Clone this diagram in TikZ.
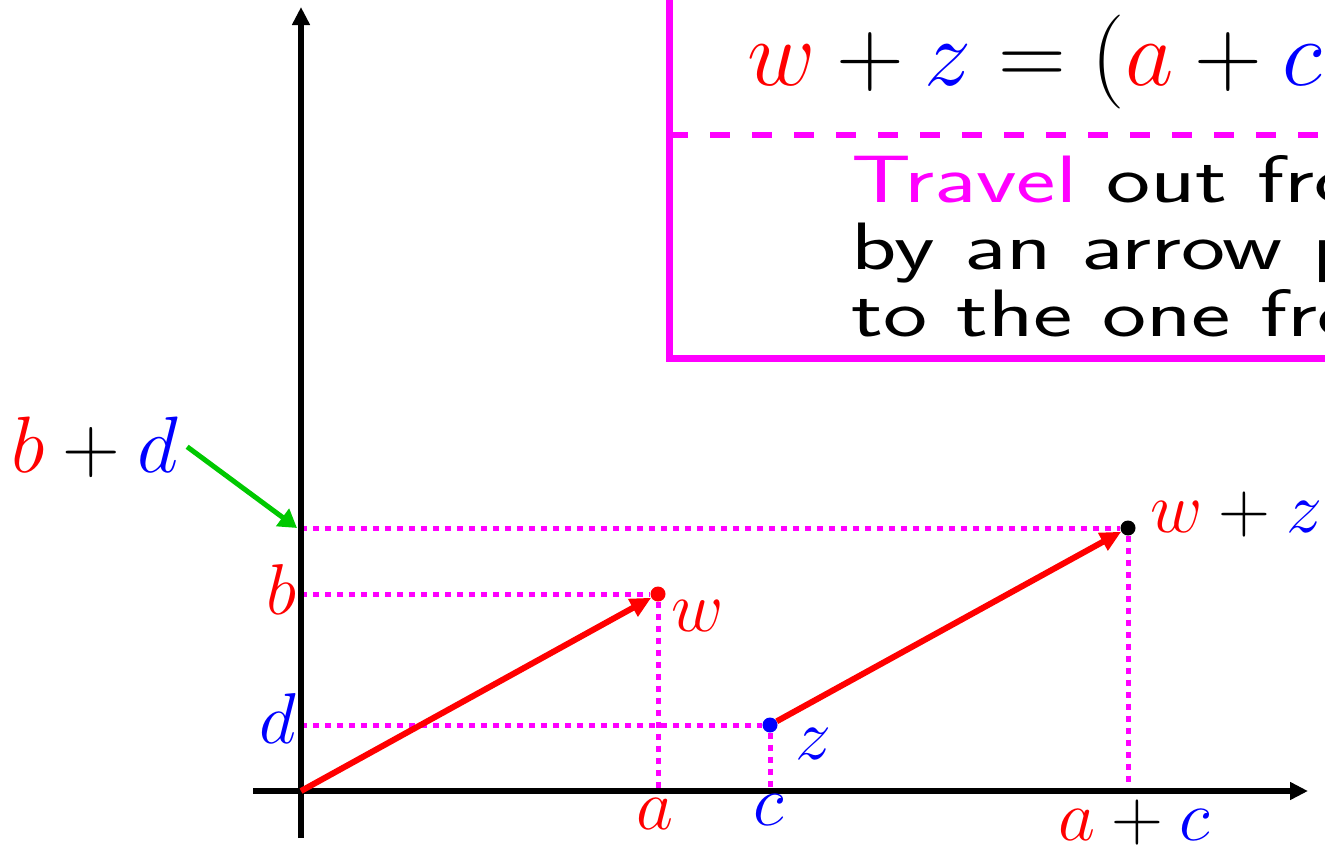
\RequirePackage{fix-cm}
\documentclass[tikz,border=0pt]{standalone}
\usetikzlibrary{arrows.meta}
\definecolor{arrowgreen}{RGB}{0,200,0}
\definecolor{hotmagenta}{RGB}{255,0,255}

\begin{document}
\begin{tikzpicture}[
    x=1pt, y=-1pt,
    axis/.style={line width=5.5pt, -{Triangle[length=18pt,width=17pt]}},
    vec/.style={line width=6pt, red, -{Triangle[length=21pt,width=19pt]}},
    guide/.style={line width=5pt, hotmagenta, dash pattern=on 6pt off 6pt},
    pointer/.style={line width=5pt, arrowgreen, -{Triangle[length=18pt,width=21pt]}},
    dot/.style={circle, fill, inner sep=0pt, minimum size=15pt},
    lbl/.style={inner sep=0pt, font=\fontsize{72}{72}\selectfont},
    frame/.style={line width=7pt, hotmagenta}
]
\useasboundingbox (0,0) rectangle (1325,846);
\clip (0,0) rectangle (1325,846);

% 1. Points
\coordinate (O) at (301,791);
\node[dot, red] (w) at (658,594) {};
\node[dot, blue] (z) at (770,725) {};
\node[dot, black] (wz) at (1128,528) {};

% 2. Dotted guides
\draw[guide] (O |- wz) -- (wz);
\draw[guide] (O |- w) -- (w);
\draw[guide] (O |- z) -- (z);
\draw[guide] (w) -- (w |- O);
\draw[guide] (z) -- (z |- O);
\draw[guide] (wz) -- (wz |- O);

% 3. Axes
\coordinate (xstart) at (253,791);
\coordinate (xend) at (1308,791);
\coordinate (ystart) at (301,838);
\coordinate (yend) at (301,7);
\draw[axis] (xstart) -- (xend);
\draw[axis] (ystart) -- (yend);

% 4. Vectors
\draw[vec] (O) -- (w);
\draw[vec] (z) -- (wz);

% 5. Labels
\node[lbl, red, anchor=base east] (lb) at (297,614) {$b$};
\node[lbl, blue, anchor=base east] (ld) at (296,743) {$d$};
\node[lbl, red, anchor=base] (la) at (655,829) {$a$};
\node[lbl, blue, anchor=base] (lc) at (769,825) {$c$};
\node[lbl, red, anchor=base west] (lw) at (671,631) {$w$};
\node[lbl, blue, anchor=base west] (lz) at (795,759) {$z$};
\node[lbl, anchor=base west] (lwz) at (1150,532) {$\textcolor{red}{w}+\textcolor{blue}{z}$};
\node[lbl, anchor=base] (lac) at (1134,840) {$\textcolor{red}{a}+\textcolor{blue}{c}$};
\node[lbl, anchor=base west, outer sep=9pt, font=\fontsize{80}{80}\selectfont] (lbd) at (2,472) {$\textcolor{red}{b}+\textcolor{blue}{d}$};

\coordinate (bdmark) at (297,528);
\draw[pointer] (lbd.east) -- (bdmark);

% 6. Rule box
\draw[frame] (669,-20) rectangle (1345,358);
\draw[hotmagenta, line width=6.5pt, dash pattern=on 20pt off 22pt] (668,135) -- (1345,135);
\node[anchor=base west, inner sep=0pt, font=\fontsize{94}{94}\selectfont] (sumeq) at (747,85)
    {$\textcolor{red}{w}+\textcolor{blue}{z}=(\textcolor{red}{a}+\textcolor{blue}{c})$};
\node[anchor=base west, inner sep=0pt, font=\sffamily\fontsize{67}{67}\selectfont] (rule) at (851,202)
    {\scalebox{1.4}[1]{\begin{tabular}[t]{@{}l@{}}
     \textcolor{hotmagenta}{Travel} out from\\by an arrow parallel\\to the one from
     \end{tabular}}};

\end{tikzpicture}
\end{document}
